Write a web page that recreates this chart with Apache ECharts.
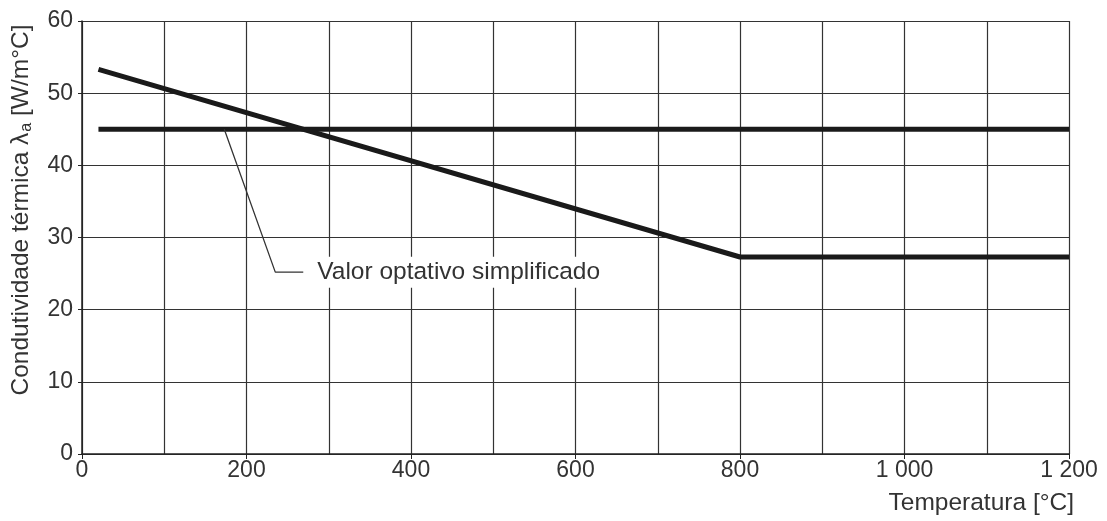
<!DOCTYPE html>
<html>
<head>
<meta charset="utf-8">
<script src="https://cdn.jsdelivr.net/npm/echarts@6/dist/echarts.min.js"></script>
<style>html,body{margin:0;padding:0;background:#fff}#c{width:1107px;height:521px}</style>
</head>
<body>
<div id="c"></div>
<script>
var temperatures = [20, 800, 1200];
var conductivity = [53.3, 27.3, 27.3];
var simplifiedTemps = [20, 1200];
var simplifiedValues = [45, 45];
var leaderTemps = [173, 235, 269];
var leaderValues = [45, 25.2, 25.2];
var annotationText = 'Valor optativo simplificado';
var xAxisName = 'Temperatura [°C]';

function pairs(xs, ys) { return xs.map(function (x, i) { return [x, ys[i]]; }); }

var font = 'Liberation Sans, Arial, sans-serif';
var chart = echarts.init(document.getElementById('c'), null, {renderer: 'canvas'});
chart.setOption({
  animation: false,
  grid: {left: 82, top: 21, right: 38, bottom: 67, containLabel: false, outerBoundsMode: 'none'},
  xAxis: {
    type: 'value', min: 0, max: 1200, interval: 200,
    name: xAxisName, nameLocation: 'end', nameGap: 5,
    nameTextStyle: {color: '#333', fontSize: 24.5, fontFamily: font, align: 'right', verticalAlign: 'top', padding: [37, 0, 0, 0]},
    axisLine: {show: true, lineStyle: {color: '#222', width: 1.5}},
    axisTick: {show: true, length: 5, lineStyle: {color: '#222'}},
    axisLabel: {color: '#333', fontSize: 23, fontFamily: font, margin: 5,
      formatter: function (v) { return v >= 1000 ? Math.floor(v / 1000) + ' ' + String(v % 1000).padStart(3, '0') : String(v); }},
    splitLine: {show: true, lineStyle: {color: '#333', width: 1.2}},
    minorTick: {show: false, splitNumber: 2},
    minorSplitLine: {show: true, lineStyle: {color: '#333', width: 1.2}}
  },
  yAxis: {
    type: 'value', min: 0, max: 60, interval: 10,
    name: '{n|Condutividade térmica λ}{s|a}{n| [W/m°C]}', nameLocation: 'middle', nameGap: 47, nameRotate: 90,
    nameTextStyle: {padding: [0, 0, 0, 55],
      rich: {n: {fontSize: 24.5, color: '#333', fontFamily: font},
             s: {fontSize: 16, color: '#333', fontFamily: font, padding: [12, 0, 0, 1]}}},
    axisLine: {show: true, lineStyle: {color: '#222', width: 1.5}},
    axisTick: {show: true, length: 4, lineStyle: {color: '#222'}},
    axisLabel: {color: '#333', fontSize: 23, fontFamily: font, margin: 9},
    splitLine: {show: true, lineStyle: {color: '#333', width: 1.2}}
  },
  series: [
    {type: 'line', data: pairs(simplifiedTemps, simplifiedValues), symbol: 'none',
     lineStyle: {color: '#1a1a1a', width: 5}, z: 3},
    {type: 'line', data: pairs(temperatures, conductivity), symbol: 'none',
     lineStyle: {color: '#1a1a1a', width: 5}, z: 3},
    {type: 'line', data: pairs(leaderTemps, leaderValues), symbol: 'none',
     lineStyle: {color: '#333', width: 1.3}, z: 4,
     endLabel: {show: true, distance: 10, formatter: annotationText,
       color: '#333', fontSize: 24.5, fontFamily: font, backgroundColor: '#fff', padding: [3, 4, 3, 4]}}
  ]
});
</script>
</body>
</html>
